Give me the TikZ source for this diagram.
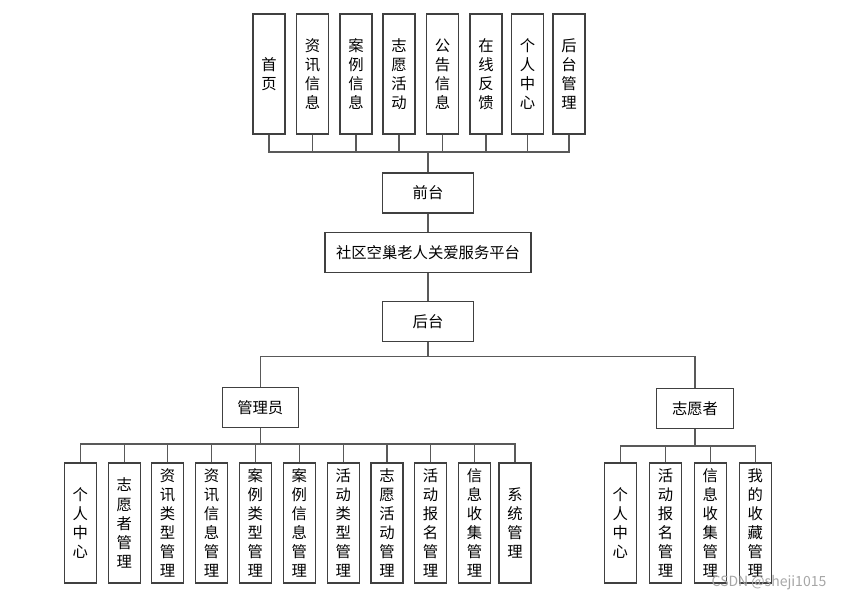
\documentclass[tikz,border=0pt]{standalone}
\usepackage{tikz}
\usepackage{fontspec}
\newfontfamily\cjk{Noto Sans CJK SC}

\tikzset{
  vbox/.style={draw=black!75, line width=1pt, minimum width=24pt, minimum height=90pt, inner sep=0pt, align=center, font=\cjk\fontsize{11.5}{14.3}\selectfont},
  hbox/.style={draw=black!75, line width=1pt, minimum height=30pt, inner sep=0pt, font=\cjk\fontsize{11.5}{14}\selectfont},
  link/.style={draw=black!65, line width=1pt}
}

\begin{document}
\begin{tikzpicture}[x=0.75pt,y=0.75pt,yscale=-1,xscale=1]
\useasboundingbox (0,0) rectangle (846,601);

% front pages
\node [vbox] (t1) at (269,74) {首\\页};
\node [vbox] (t2) at (312.5,74) {资\\讯\\信\\息};
\node [vbox] (t3) at (356,74) {案\\例\\信\\息};
\node [vbox] (t4) at (399,74) {志\\愿\\活\\动};
\node [vbox] (t5) at (442.5,74) {公\\告\\信\\息};
\node [vbox] (t6) at (486,74) {在\\线\\反\\馈};
\node [vbox] (t7) at (527.5,74) {个\\人\\中\\心};
\node [vbox] (t8) at (569,74) {后\\台\\管\\理};

% middle column
\node [hbox, minimum width=68pt] (front) at (428,193) {前台};
\node [hbox, minimum width=154.5pt] (platform) at (428,252.3) {社区空巢老人关爱服务平台};
\node [hbox, minimum width=68pt] (back) at (428,321.7) {后台};

% roles
\node [hbox, minimum width=57pt] (admin) at (260.3,407.3) {管理员};
\node [hbox, minimum width=57.5pt] (volun) at (695,408.3) {志愿者};

% admin functions
\node [vbox] (a1) at (80.2,523) {个\\人\\中\\心};
\node [vbox] (a2) at (124.2,523) {志\\愿\\者\\管\\理};
\node [vbox] (a3) at (167.5,523) {资\\讯\\类\\型\\管\\理};
\node [vbox] (a4) at (211.5,523) {资\\讯\\信\\息\\管\\理};
\node [vbox] (a5) at (255.2,523) {案\\例\\类\\型\\管\\理};
\node [vbox] (a6) at (299.2,523) {案\\例\\信\\息\\管\\理};
\node [vbox] (a7) at (343.2,523) {活\\动\\类\\型\\管\\理};
\node [vbox] (a8) at (387,523) {志\\愿\\活\\动\\管\\理};
\node [vbox] (a9) at (430.5,523) {活\\动\\报\\名\\管\\理};
\node [vbox] (a10) at (474.5,523) {信\\息\\收\\集\\管\\理};
\node [vbox] (a11) at (515,523) {系\\统\\管\\理};

% volunteer functions
\node [vbox] (v1) at (620.3,523) {个\\人\\中\\心};
\node [vbox] (v2) at (665.5,523) {活\\动\\报\\名\\管\\理};
\node [vbox] (v3) at (710.3,523) {信\\息\\收\\集\\管\\理};
\node [vbox] (v4) at (755.3,523) {我\\的\\收\\藏\\管\\理};

% bus points
\coordinate (topbus) at (428,152);
\coordinate (split) at (428,356.7);
\coordinate (adminbus) at (260.3,444);
\coordinate (volunbus) at (695,446);

% top row to front
\draw [link] (t1.south) |- (topbus);
\draw [link] (t2.south) |- (topbus);
\draw [link] (t3.south) |- (topbus);
\draw [link] (t4.south) |- (topbus);
\draw [link] (t5.south) |- (topbus);
\draw [link] (t6.south) |- (topbus);
\draw [link] (t7.south) |- (topbus);
\draw [link] (t8.south) |- (topbus);
\draw [link] (topbus) -- (front.north);

% middle chain
\draw [link] (front.south) -- (platform.north);
\draw [link] (platform.south) -- (back.north);
\draw [link] (back.south) -- (split);
\draw [link] (admin.north) |- (split);
\draw [link] (volun.north) |- (split);

% admin branch
\draw [link] (admin.south) -- (adminbus);
\draw [link] (a1.north) |- (adminbus);
\draw [link] (a2.north) |- (adminbus);
\draw [link] (a3.north) |- (adminbus);
\draw [link] (a4.north) |- (adminbus);
\draw [link] (a5.north) |- (adminbus);
\draw [link] (a6.north) |- (adminbus);
\draw [link] (a7.north) |- (adminbus);
\draw [link] (a8.north) |- (adminbus);
\draw [link] (a9.north) |- (adminbus);
\draw [link] (a10.north) |- (adminbus);
\draw [link] (a11.north) |- (adminbus);

% volunteer branch
\draw [link] (volun.south) -- (volunbus);
\draw [link] (v1.north) |- (volunbus);
\draw [link] (v2.north) |- (volunbus);
\draw [link] (v3.north) |- (volunbus);
\draw [link] (v4.north) |- (volunbus);

% watermark
\node [text=black!35, font=\cjk\fontsize{10.5}{12}\selectfont, inner sep=0pt] (mark) at (769,583) {CSDN @sheji1015};

\end{tikzpicture}
\end{document}
